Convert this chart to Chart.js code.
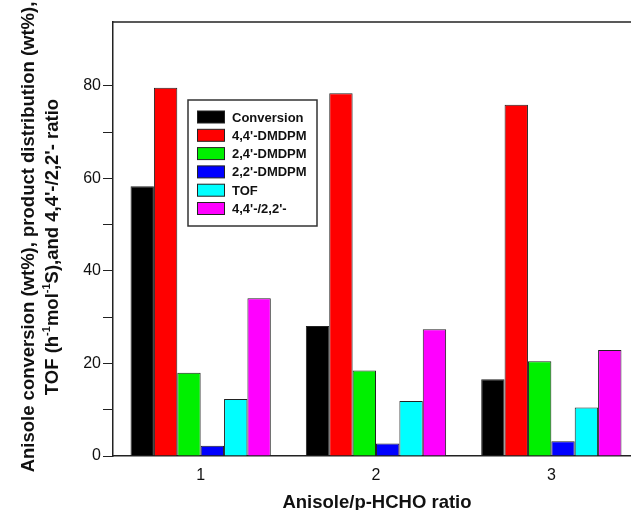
<!DOCTYPE html>
<html>
<head>
<meta charset="utf-8">
<script src="https://cdn.jsdelivr.net/npm/chart.js@4.4.1/dist/chart.umd.min.js"></script>
<style>
  html, body { margin: 0; padding: 0; background: #fff; overflow: hidden; }
  #wrap { width: 631px; height: 510px; overflow: hidden; }
</style>
</head>
<body>
<div id="wrap"><canvas id="chart" width="645" height="510"></canvas></div>
<script>
// categories (Anisole/p-HCHO ratio)
const ratios = ['1', '2', '3'];

// series values
const conversion = [58.3, 28.1, 16.6];
const dmdpm44 = [79.6, 78.4, 75.9];
const dmdpm24 = [18.0, 18.5, 20.5];
const dmdpm22 = [2.2, 2.7, 3.2];
const tof = [12.3, 11.9, 10.5];
const ratio4422 = [34.1, 27.4, 22.9];

const seriesNames = ['Conversion', "4,4'-DMDPM", "2,4'-DMDPM", "2,2'-DMDPM", 'TOF', "4,4'-/2,2'-"];
const seriesColors = ['#000000', '#ff0000', '#00f000', '#0000ff', '#00ffff', '#ff00ff'];
const seriesData = [conversion, dmdpm44, dmdpm24, dmdpm22, tof, ratio4422];

const yTickLabels = [0, 20, 40, 60, 80];

const FONT = '"Liberation Sans", Arial, Helvetica, sans-serif';

// top frame line (no right frame, figure is cropped)
const frameLine = {
  id: 'frameLine',
  afterDraw(chart) {
    const {ctx, chartArea} = chart;
    ctx.save();
    ctx.strokeStyle = '#222';
    ctx.lineWidth = 1.5;
    ctx.beginPath();
    ctx.moveTo(chartArea.left, chartArea.top);
    ctx.lineTo(chart.width, chartArea.top);
    ctx.stroke();
    ctx.restore();
  }
};

// boxed legend inside the plot
const boxLegend = {
  id: 'boxLegend',
  afterDraw(chart) {
    const ctx = chart.ctx;
    const bx = 188, by = 100, bw = 129, bh = 126;
    ctx.save();
    ctx.fillStyle = '#fff';
    ctx.fillRect(bx, by, bw, bh);
    ctx.strokeStyle = '#333';
    ctx.lineWidth = 1.5;
    ctx.strokeRect(bx, by, bw, bh);
    ctx.font = 'bold 13px ' + FONT;
    ctx.textBaseline = 'middle';
    ctx.textAlign = 'left';
    chart.data.datasets.forEach((ds, i) => {
      const cy = 117 + i * 18.3;
      ctx.fillStyle = ds.backgroundColor;
      ctx.fillRect(197, cy - 6, 27, 12);
      ctx.strokeStyle = '#222';
      ctx.lineWidth = 1;
      ctx.strokeRect(197.5, cy - 6, 27, 12);
      ctx.fillStyle = '#111';
      ctx.fillText(ds.label, 232, cy + 1);
    });
    ctx.restore();
  }
};

// axis titles
const axisTitles = {
  id: 'axisTitles',
  afterDraw(chart) {
    const ctx = chart.ctx;
    ctx.save();
    ctx.fillStyle = '#111';
    // x title
    ctx.font = 'bold 18.5px ' + FONT;
    ctx.textAlign = 'center';
    ctx.textBaseline = 'alphabetic';
    ctx.fillText('Anisole/p-HCHO ratio', 377, 508);

    // y title, two rotated lines
    const cy = 239;
    ctx.translate(0, cy);
    ctx.rotate(-Math.PI / 2);
    ctx.font = 'bold 18.5px ' + FONT;
    ctx.textAlign = 'center';
    ctx.fillText('Anisole conversion (wt%), product distribution (wt%),', 2, 34);

    const parts = [
      ['TOF (h', false], ['-1', true], ['mol', false], ['-1', true], ["S),and 4,4'-/2,2'- ratio", false]
    ];
    const fNorm = 'bold 18.5px ' + FONT, fSup = 'bold 11px ' + FONT;
    let total = 0;
    parts.forEach(p => { ctx.font = p[1] ? fSup : fNorm; total += ctx.measureText(p[0]).width; });
    let x = -8 - total / 2;
    ctx.textAlign = 'left';
    parts.forEach(p => {
      ctx.font = p[1] ? fSup : fNorm;
      ctx.fillText(p[0], x, p[1] ? 58 - 8 : 58);
      x += ctx.measureText(p[0]).width;
    });
    ctx.restore();
  }
};

new Chart(document.getElementById('chart'), {
  type: 'bar',
  data: {
    labels: ratios,
    datasets: seriesNames.map((name, i) => ({
      label: name,
      data: seriesData[i],
      backgroundColor: seriesColors[i],
      borderColor: '#222',
      borderWidth: 1,
      barPercentage: 1,
      categoryPercentage: 0.8
    }))
  },
  options: {
    responsive: false,
    devicePixelRatio: 1,
    animation: false,
    layout: { padding: { top: 22, right: 6, left: 0, bottom: 0 } },
    plugins: { legend: { display: false }, tooltip: { enabled: false } },
    scales: {
      x: {
        grid: { display: false },
        border: { display: true, color: '#222', width: 1.5 },
        ticks: { color: '#111', padding: 2, font: { family: FONT, size: 16 } },
        afterFit: s => { s.height = 54; }
      },
      y: {
        min: 0,
        max: 93.8,
        grid: { display: true, drawOnChartArea: false, drawTicks: true, tickLength: 10, color: '#222', lineWidth: 1 },
        border: { display: true, color: '#222', width: 1.5 },
        ticks: {
          stepSize: 10,
          color: '#111',
          padding: 2,
          font: { family: FONT, size: 16 },
          callback: v => yTickLabels.includes(v) ? String(v) : ''
        },
        afterBuildTicks: s => { s.ticks = s.ticks.filter(t => Math.abs(t.value % 10) < 1e-6); },
        afterFit: s => { s.width = 113; }
      }
    }
  },
  plugins: [frameLine, boxLegend, axisTitles]
});
</script>
</body>
</html>
